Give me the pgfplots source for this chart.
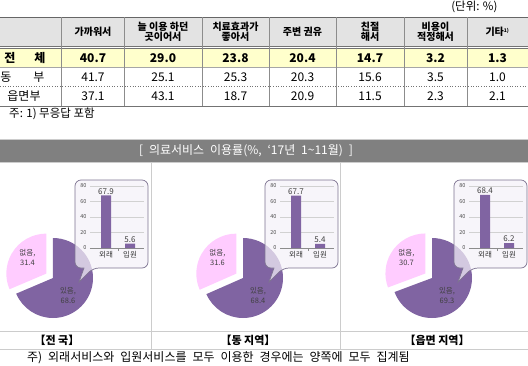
\documentclass[border=0pt]{standalone}
\usepackage{pgfplots}
\pgfplotsset{compat=1.18}
\usepackage{fontspec}
\setmainfont{Noto Sans CJK KR}
\newfontfamily\krw[WordSpace=2.2]{Noto Sans CJK KR}
\definecolor{pieBig}{HTML}{8064A2}
\definecolor{pieSmall}{HTML}{FFCCFF}
\definecolor{hdr}{HTML}{E3E3E3}
\definecolor{yel}{HTML}{FFFFCC}
\definecolor{band}{HTML}{808080}
\definecolor{boxfill}{HTML}{F4F1F8}
\definecolor{boxline}{HTML}{7D7391}
\tikzset{pielab/.style={font=\fontsize{7.5}{9}\selectfont, align=center, text=black!75, inner sep=0pt}}
\pgfplotsset{barax/.style={anchor=south west, width=54pt, height=62pt, scale only axis,
  ybar, bar width=10pt, xmin=-0.667, xmax=1.583, ymin=0, ymax=80,
  ytick={0,20,40,60,80}, xtick={0,1}, xticklabels={외래,입원}, minor xtick={0.5},
  axis lines*=left, y axis line style={draw=none}, x axis line style={draw=black!45},
  ymajorgrids, major grid style={draw=black!18, line width=0.4pt},
  major tick length=0pt, minor tick length=3pt, tick align=outside, minor tick style={draw=black!45},
  yticklabel style={font=\fontsize{5.5}{6}\selectfont, text=black!70},
  xticklabel style={font=\fontsize{7.5}{8}\selectfont, text=black!80},
  nodes near coords, nodes near coords style={font=\fontsize{8}{9}\selectfont, text=black!75, inner sep=1pt},
  clip=false, /pgf/number format/assume math mode=true}}
% #1 pie cx, #2 pie cy, #3 yes share, #4 no share, #5 outpatient, #6 inpatient
\newcommand\panel[6]{%
 \begin{axis}[at={({#1pt-40pt},{-#2pt-40pt})}, anchor=south west, width=80pt, height=80pt,
   scale only axis, xmin=-1, xmax=1, ymin=-1, ymax=1, hide axis, clip=false]
  \fill[pieBig] (axis cs:0,0) -- ++(90:40pt) arc[start angle=90, end angle={90-3.6*#3}, radius=40pt] -- cycle;
  \fill[pieSmall] (axis cs:{0.2*cos(90+1.8*#4)},{0.2*sin(90+1.8*#4)}) -- ++(90:40pt) arc[start angle=90, end angle={90+3.6*#4}, radius=40pt] -- cycle;
  \node[pielab] at (axis cs:-0.64,0.51) {없음,\\[1pt]#4};
  \node[pielab] at (axis cs:0.375,-0.44) {있음,\\[1pt]#3};
 \end{axis}
 \draw[boxline, fill=boxfill, fill opacity=0.72, line width=0.7pt, rounded corners=6pt]
   ({#1pt+22pt},-180pt) -- ({#1pt+95pt},-180pt) -- ({#1pt+95pt},-268pt) -- ({#1pt+40pt},-268pt)
   [sharp corners] -- ({#1pt+26pt},-282pt) -- ({#1pt+31pt},-268pt)
   [rounded corners=6pt] -- ({#1pt+22pt},-268pt) -- cycle;
 \begin{axis}[barax, at={({#1pt+37pt},-248pt)}]
  \addplot[fill=pieBig, draw=none] coordinates {(0,#5) (1,#6)};
 \end{axis}
}
\begin{document}
\begin{tikzpicture}
\useasboundingbox (0,0) rectangle (528pt,-365pt);
\begin{scope}[x=1pt,y=-1pt]
 \node[font=\fontsize{11.5}{12}\selectfont, anchor=east] at (501,7) {(단위: \%)};
 \fill[hdr] (0,17) rectangle (528,46);
 \fill[yel] (0,48.5) rectangle (528,67);
 \draw[black!60, line width=0.8pt] (0,17) -- (528,17);
 \draw[black!55, line width=0.6pt] (0,46) -- (528,46) (0,48.5) -- (528,48.5);
 \draw[black!35, line width=0.5pt] (0,67) -- (528,67);
 \draw[black!55, dotted, line width=0.6pt] (0,86) -- (528,86);
 \draw[black!55, line width=0.7pt] (0,106) -- (528,106);
 \foreach \x in {61.5,124,202,269,336,404,467} \draw[black!45, line width=0.5pt] (\x,17) -- (\x,106);
 \begin{scope}[every node/.style={font=\bfseries\fontsize{10}{10.5}\selectfont, align=center, inner sep=0pt}]
  \node at (93,32) {가까워서};
  \node at (163,32) {늘 이용 하던\\곳이어서};
  \node at (235.5,32) {치료효과가\\좋아서};
  \node at (302.5,32) {주변 권유};
  \node at (370,32) {친절\\해서};
  \node at (435.5,32) {비용이\\적정해서};
  \node at (497.5,32) {기타\textsuperscript{\tiny 1)}};
 \end{scope}
 \begin{scope}[every node/.style={font=\bfseries\fontsize{12}{12}\selectfont, inner sep=0pt}]
  \node at (10,58) {전}; \node at (40,58) {체};
  \foreach \x/\v in {93/40.7,163/29.0,235.5/23.8,302.5/20.4,370/14.7,435.5/3.2,497.5/1.3}
   \node at (\x,58) {\v};
 \end{scope}
 \begin{scope}[every node/.style={font=\fontsize{12}{12}\selectfont, inner sep=0pt}]
  \node at (6,77) {동}; \node at (39,77) {부};
  \foreach \x/\v in {93/41.7,163/25.1,235.5/25.3,302.5/20.3,370/15.6,435.5/3.5,497.5/1.0}
   \node at (\x,77) {\v};
  \node at (24,96) {읍면부};
  \foreach \x/\v in {93/37.1,163/43.1,235.5/18.7,302.5/20.9,370/11.5,435.5/2.3,497.5/2.1}
   \node at (\x,96) {\v};
 \end{scope}
 \node[anchor=west, inner sep=0pt, font=\fontsize{11.5}{12}\selectfont] at (9,114) {주: 1) 무응답 포함};
 % band
 \draw[black!20, line width=0.8pt] (0,139) -- (528,139);
 \fill[band] (0,140) rectangle (528,161.5);
 \draw[black!20, line width=0.8pt] (0,162.5) -- (528,162.5);
 \node[text=white, font=\krw\fontsize{12}{12}\selectfont] at (246,151) {[ 의료서비스 이용률(\%, ‘17년 1\textasciitilde 11월) ]};
 \draw[black!20, line width=0.8pt] (151.5,162.5) -- (151.5,349) (340.5,162.5) -- (340.5,349);
 \draw[black!20, line width=0.8pt] (0,331) -- (528,331) (0,349) -- (528,349);
 \node[font=\bfseries\fontsize{11}{12}\selectfont] at (57,340) {【전 국】};
 \node[font=\bfseries\fontsize{11}{12}\selectfont] at (248,340) {【동 지역】};
 \node[font=\bfseries\fontsize{11}{12}\selectfont] at (437,340) {【읍면 지역】};
 \node[anchor=west, inner sep=0pt, font=\krw\fontsize{12}{12}\selectfont] at (27,358) {주) 외래서비스와 입원서비스를 모두 이용한 경우에는 양쪽에 모두 집계됨};
\end{scope}
\panel{53}{278}{68.6}{31.4}{67.9}{5.6}
\panel{243}{278}{68.4}{31.6}{67.7}{5.4}
\panel{432}{278}{69.3}{30.7}{68.4}{6.2}
\end{tikzpicture}
\end{document}
